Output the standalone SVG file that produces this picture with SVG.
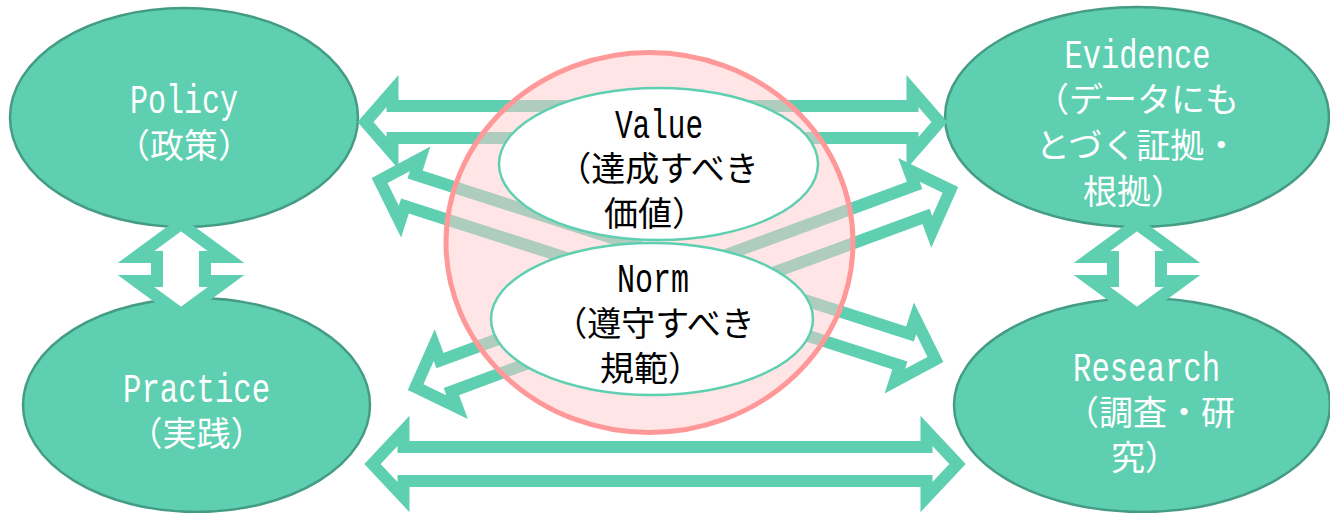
<svg xmlns="http://www.w3.org/2000/svg" width="1330" height="513" viewBox="0 0 1330 513">
<style>
.node{fill:#5ECFB1;stroke:#459C84;stroke-width:2.5}
.arrow{fill:#FFFFFF;stroke:#5ECFB1;stroke-width:12;stroke-linejoin:miter;stroke-miterlimit:10}
.inner{fill:#FFFFFF;stroke:#5ECFB1;stroke-width:2.5}
.lat{font-family:"Liberation Mono","DejaVu Sans Mono",monospace;font-size:40px;text-anchor:middle}
.jp{font-family:"Noto Sans CJK JP","Noto Sans CJK SC",sans-serif;font-size:34px;text-anchor:middle}
.w{fill:#FFFFFF}
.k{fill:#000000}
</style>
<rect width="1330" height="513" fill="#FFFFFF"/>
<g id="policy">
<ellipse class="node" cx="184" cy="117.5" rx="174" ry="109.5"/>
<text class="lat w" x="184" y="113" textLength="108" lengthAdjust="spacingAndGlyphs">Policy</text>
<text class="jp w" x="184" y="158">（政策）</text>
</g>
<g id="practice">
<ellipse class="node" cx="196.5" cy="405" rx="173.5" ry="107"/>
<text class="lat w" x="196.5" y="402" textLength="147" lengthAdjust="spacingAndGlyphs">Practice</text>
<text class="jp w" x="196.5" y="446">（実践）</text>
</g>
<g id="evidence">
<ellipse class="node" cx="1137" cy="117" rx="192" ry="110"/>
<text class="lat w" x="1137.5" y="68" textLength="146" lengthAdjust="spacingAndGlyphs">Evidence</text>
<text class="jp w" x="1137" y="112">（データにも</text>
<text class="jp w" x="1137" y="158">とづく証拠・</text>
<text class="jp w" x="1134" y="204">根拠）</text>
</g>
<g id="research">
<ellipse class="node" cx="1142" cy="405" rx="188" ry="107"/>
<text class="lat w" x="1146.5" y="381" textLength="147" lengthAdjust="spacingAndGlyphs">Research</text>
<text class="jp w" x="1150" y="425">（調査・研</text>
<text class="jp w" x="1145" y="470">究）</text>
</g>
<g id="connectors">
<path class="arrow" transform="translate(652.5,122)" d="M -287 0 L -260 -31 L -260 -16 L 260 -16 L 260 -31 L 287 0 L 260 31 L 260 16 L -260 16 L -260 31 Z"/>
<path class="arrow" transform="translate(665,464)" d="M -292.5 0 L -261.5 -33 L -261.5 -17 L 261.5 -17 L 261.5 -33 L 292.5 0 L 261.5 33 L 261.5 17 L -261.5 17 L -261.5 33 Z"/>
<path class="arrow" transform="translate(657.5,270) rotate(17.86)" d="M -292 0 L -260 -33 L -260 -16.5 L 260 -16.5 L 260 -33 L 292 0 L 260 33 L 260 16.5 L -260 16.5 L -260 33 Z"/>
<path class="arrow" transform="translate(683,288.5) rotate(-20.26)" d="M -285 0 L -253 -33 L -253 -16.5 L 253 -16.5 L 253 -33 L 285 0 L 253 33 L 253 16.5 L -253 16.5 L -253 33 Z"/>
<path class="arrow" transform="translate(181,269) rotate(90)" d="M -45 0 L -12 -45 L -12 -24 L 12 -24 L 12 -45 L 45 0 L 12 45 L 12 24 L -12 24 L -12 45 Z"/>
<path class="arrow" transform="translate(1137,269) rotate(90)" d="M -45 0 L -12 -45 L -12 -24 L 12 -24 L 12 -45 L 45 0 L 12 45 L 12 24 L -12 24 L -12 45 Z"/>
</g>
<g id="core">
<ellipse cx="649.5" cy="242.5" rx="203.5" ry="190" fill="#FFCCCC" fill-opacity="0.5" stroke="#FF9999" stroke-width="5"/>
</g>
<g id="value">
<ellipse class="inner" cx="658.5" cy="164" rx="159.5" ry="76"/>
<text class="lat k" x="659" y="138" textLength="88" lengthAdjust="spacingAndGlyphs">Value</text>
<text class="jp k" x="658" y="181">（達成すべき</text>
<text class="jp k" x="655" y="226">価値）</text>
</g>
<g id="norm">
<ellipse class="inner" cx="652" cy="319" rx="161" ry="76"/>
<text class="lat k" x="653" y="292" textLength="72" lengthAdjust="spacingAndGlyphs">Norm</text>
<text class="jp k" x="654" y="336">（遵守すべき</text>
<text class="jp k" x="651" y="381">規範）</text>
</g>
</svg>
